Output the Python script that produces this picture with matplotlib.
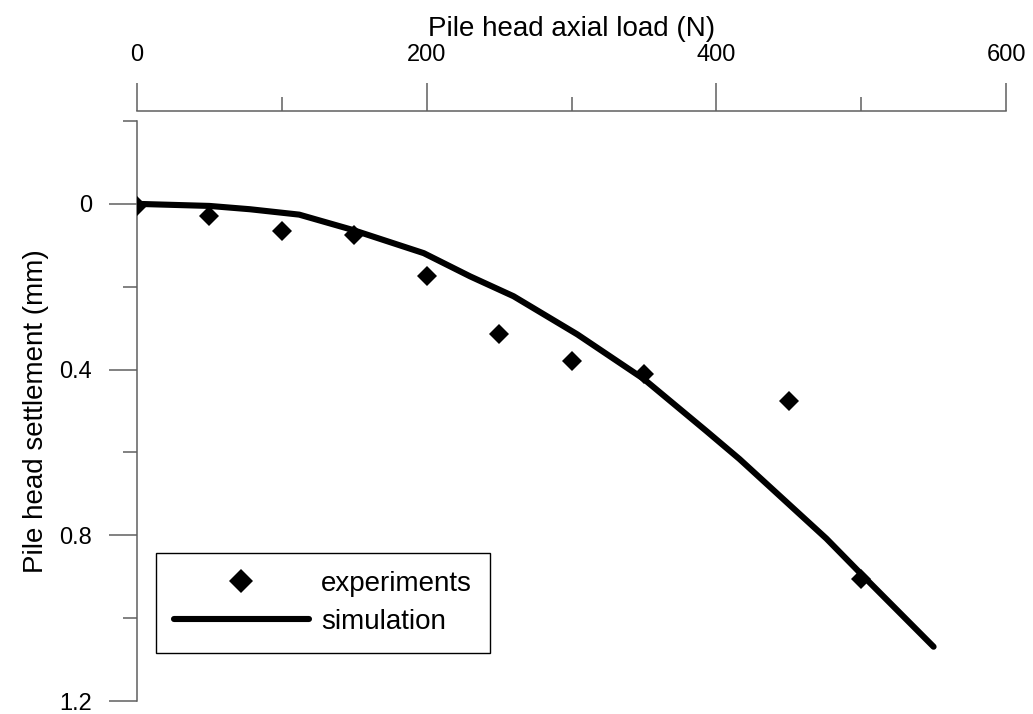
import matplotlib
matplotlib.use("Agg")
import matplotlib.pyplot as plt
from matplotlib.ticker import FixedLocator

plt.rcParams["font.family"] = ["Liberation Sans", "DejaVu Sans"]

# Measured load-settlement data
exp_load = [0, 50, 100, 150, 200, 250, 300, 350, 450, 500]
exp_settlement = [0.005, 0.029, 0.065, 0.076, 0.173, 0.315, 0.379, 0.411, 0.477, 0.905]

# Numerical model response
sim_load = [0, 50, 78, 112, 149, 198, 230, 260, 304, 350, 393, 416, 446,
            476, 501, 550]
sim_settlement = [0.0, 0.005, 0.013, 0.026, 0.063, 0.119, 0.175, 0.223,
                  0.315, 0.423, 0.548, 0.616, 0.712, 0.808, 0.897, 1.069]

x_major = [0, 200, 400, 600]
x_minor = [100, 300, 500]
y_major = [0, 0.4, 0.8, 1.2]
y_minor = [-0.2, 0.2, 0.6, 1.0]
y_labels = ["0", "0.4", "0.8", "1.2"]

W, H = 1033, 714
fig = plt.figure(figsize=(W / 100, H / 100), dpi=100)
ax = fig.add_axes([137 / W, 1 - 701 / H, (1006 - 137) / W, (701 - 121) / H])

axis_gray = "#5f5f5f"

ax.plot(sim_load, sim_settlement, color="black", lw=4.4,
        solid_capstyle="round", solid_joinstyle="round", label="simulation",
        zorder=2)
ax.plot(exp_load, exp_settlement, ls="none", marker="D", ms=10.5,
        mfc="black", mec="black", mew=0, label="experiments", zorder=3)

ax.set_xlim(0, 600)
ax.set_ylim(1.2, -0.2)

for side in ("bottom", "right"):
    ax.spines[side].set_visible(False)
for side in ("top", "left"):
    ax.spines[side].set_color(axis_gray)
    ax.spines[side].set_linewidth(1.1)
ax.spines["top"].set_position(("outward", 7.2))

ax.xaxis.set_ticks_position("top")
ax.xaxis.set_label_position("top")
ax.xaxis.set_major_locator(FixedLocator(x_major))
ax.xaxis.set_minor_locator(FixedLocator(x_minor))
ax.set_xticklabels([str(v) for v in x_major])

ax.yaxis.set_major_locator(FixedLocator(y_major))
ax.yaxis.set_minor_locator(FixedLocator(y_minor))
ax.set_yticklabels(y_labels)

ax.tick_params(which="major", direction="out", length=20.5, width=1.1,
               color=axis_gray, labelsize=17)
ax.tick_params(which="minor", direction="out", length=10, width=1.1,
               color=axis_gray)
ax.tick_params(axis="x", which="major", pad=12)
ax.tick_params(axis="y", which="major", pad=12)

ax.set_xlabel("Pile head axial load (N)", fontsize=20, labelpad=6)
ax.set_ylabel("Pile head settlement (mm)", fontsize=20, labelpad=7)

handles, labels = ax.get_legend_handles_labels()
leg = ax.legend(handles[::-1], labels[::-1], loc="upper left",
                bbox_to_anchor=(156 / W, 1 - 553 / H),
                bbox_transform=fig.transFigure, borderaxespad=0,
                fontsize=20, frameon=True, fancybox=False, framealpha=1,
                edgecolor="black", borderpad=0.65, labelspacing=0.42,
                handlelength=4.85, handletextpad=0.45, numpoints=1,
                markerscale=1.2)
leg.get_frame().set_linewidth(1.0)

fig.savefig("out.png", dpi=100, facecolor="white")
